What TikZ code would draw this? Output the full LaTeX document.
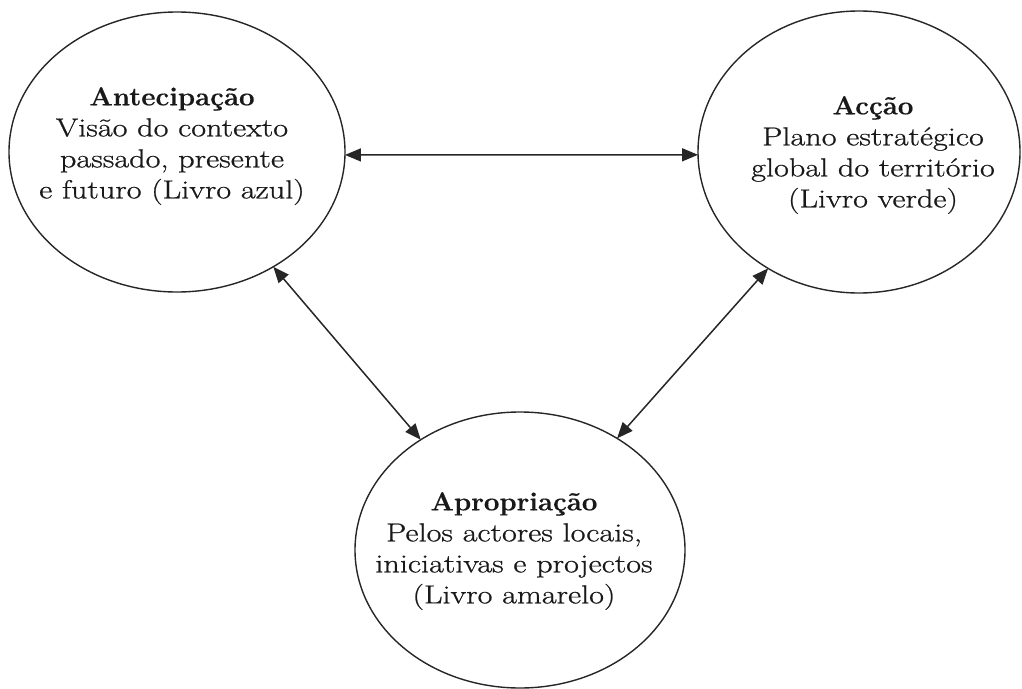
\documentclass[tikz,border=0pt]{standalone}
\usepackage{fontspec}
\setmainfont{Latin Modern Roman}[FakeStretch=1.24,FakeBold=0.8,BoldFeatures={FakeStretch=1.06,FakeBold=0.5}]
\usetikzlibrary{shapes.geometric,arrows.meta}
\begin{document}
\begin{tikzpicture}[x=1pt,y=-1pt,
  bubble/.style={draw=black!85,line width=1.4pt,ellipse,inner sep=0pt,outer sep=0pt},
  caption/.style={align=center,font=\fontsize{26}{31}\selectfont,text=black!90},
  link/.style={line width=1.5pt,draw=black!85,{Triangle[length=16pt,width=13pt]}-{Triangle[length=16pt,width=13pt]}}]
  \useasboundingbox (0,0) rectangle (1022,688);
  % the three phases
  \node[bubble,minimum width=336pt,minimum height=280pt] (ante) at (177,152) {};
  \node[bubble,minimum width=322pt,minimum height=282pt] (accao) at (859,152) {};
  \node[bubble,minimum width=330pt,minimum height=276pt] (aprop) at (520,550) {};
  \node[caption] (anteT) at (172,146) {\textbf{Antecipação}\\Visão do contexto\\passado, presente\\e futuro (Livro azul)};
  \node[caption] (accaoT) at (873,155) {\textbf{Acção}\\Plano estratégico\\global do território\\(Livro verde)};
  \node[caption] (apropT) at (514,551) {\textbf{Apropriação}\\Pelos actores locais,\\iniciativas e projectos\\(Livro amarelo)};
  % two-way links between the phases
  \draw[link] (ante.-1) -- (accao.181);
  \draw[link] (ante.-50.3) -- (aprop.132);
  \draw[link] (accao.-128) -- (aprop.49.4);
\end{tikzpicture}
\end{document}
